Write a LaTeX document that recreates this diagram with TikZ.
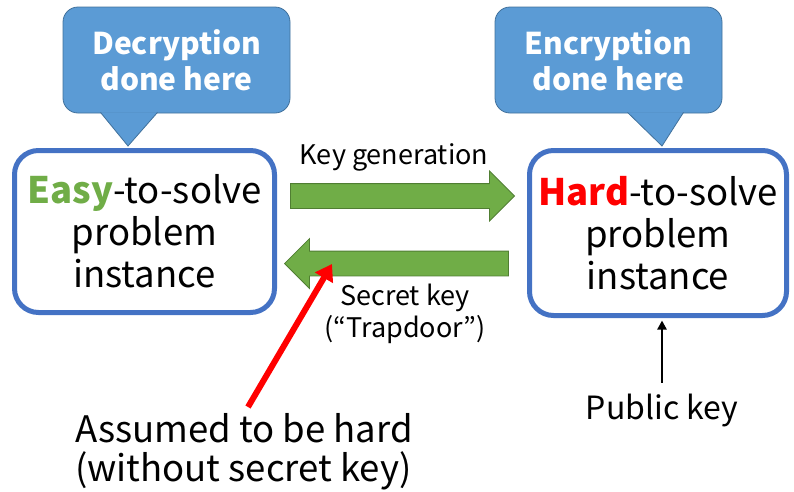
\documentclass[tikz,border=0pt]{standalone}
\usepackage{fontspec}
\setmainfont{Noto Sans CJK JP}
\usetikzlibrary{shapes.arrows,arrows.meta}
\definecolor{boxblue}{HTML}{4472C4}
\definecolor{callblue}{HTML}{5B9BD5}
\definecolor{callline}{HTML}{41719C}
\definecolor{keygreen}{HTML}{70AD47}
\definecolor{keyline}{HTML}{507E32}
\begin{document}
\begin{tikzpicture}[x=1pt,y=-1pt,
    problem/.style={draw=boxblue, line width=5pt, rounded corners=24pt, fill=white,
        align=center, font=\fontsize{36.5}{42}\selectfont},
    callout/.style={fill=callblue, draw=callline, line width=0.8pt},
    bubble/.style={callout, rounded corners=15pt, minimum width=227pt, minimum height=106pt,
        align=center, text=white, font=\bfseries\fontsize{30}{36}\selectfont},
    keyarrow/.style={single arrow, fill=keygreen, draw=keyline, line width=0.8pt,
        minimum height=224pt, minimum width=49pt, single arrow head extend=12.5pt,
        inner xsep=0pt, inner ysep=12pt, anchor=tip},
    label/.style={font=\fontsize{27}{32}\selectfont, align=center}
  ]
    \useasboundingbox (0,0) rectangle (794,491);

    \node[bubble] (dec) at (176.5,60) {Decryption\\done here};
    \node[bubble] (enc) at (608.5,60) {Encryption\\done here};

    \node[problem, minimum width=260pt, minimum height=162pt] (easy) at (144.5,231.5)
        {{\color{keygreen}\bfseries Easy}-to-solve\\problem\\instance};
    \node[problem, minimum width=257pt, minimum height=165pt] (hard) at (658,233)
        {{\color{red}\bfseries Hard}-to-solve\\problem\\instance};

    \coordinate (dectip) at ([xshift=-16.5pt,yshift=2pt]easy.north);
    \coordinate (enctip) at ([xshift=4pt,yshift=2pt]hard.north);
    \filldraw[callout] ([xshift=-76pt,yshift=1pt]dec.south) -- (dectip) -- ([xshift=-19pt,yshift=1pt]dec.south);
    \filldraw[callout] ([xshift=19pt,yshift=1pt]enc.south) -- (enctip) -- ([xshift=75pt,yshift=1pt]enc.south);

    \node[keyarrow] (fwd) at (515,196) {};
    \node[keyarrow, shape border rotate=180] (back) at (284,263.5) {};
    \node[label] (keygen) at (394,157) {Key generation};
    \node[label] (secret) at (405,314) {Secret key\\(“Trapdoor”)};

    \node[font=\fontsize{36.5}{39}\selectfont, align=left] (assume) at (244,452)
        {Assumed to be hard\\(without secret key)};
    \node[font=\fontsize{32}{34}\selectfont] (pub) at (662,410) {Public key};

    \coordinate (redstart) at (248,407);
    \coordinate (redend) at (332,264);
    \draw[red, line width=6pt, -{Triangle[length=16pt,width=20pt]}] (redstart) -- (redend);
    \draw[line width=2.5pt, -{Triangle[length=9pt,width=9pt]}] ([yshift=7pt]pub.north) -- ([yshift=-2.5pt]pub.north |- hard.south);
\end{tikzpicture}
\end{document}
